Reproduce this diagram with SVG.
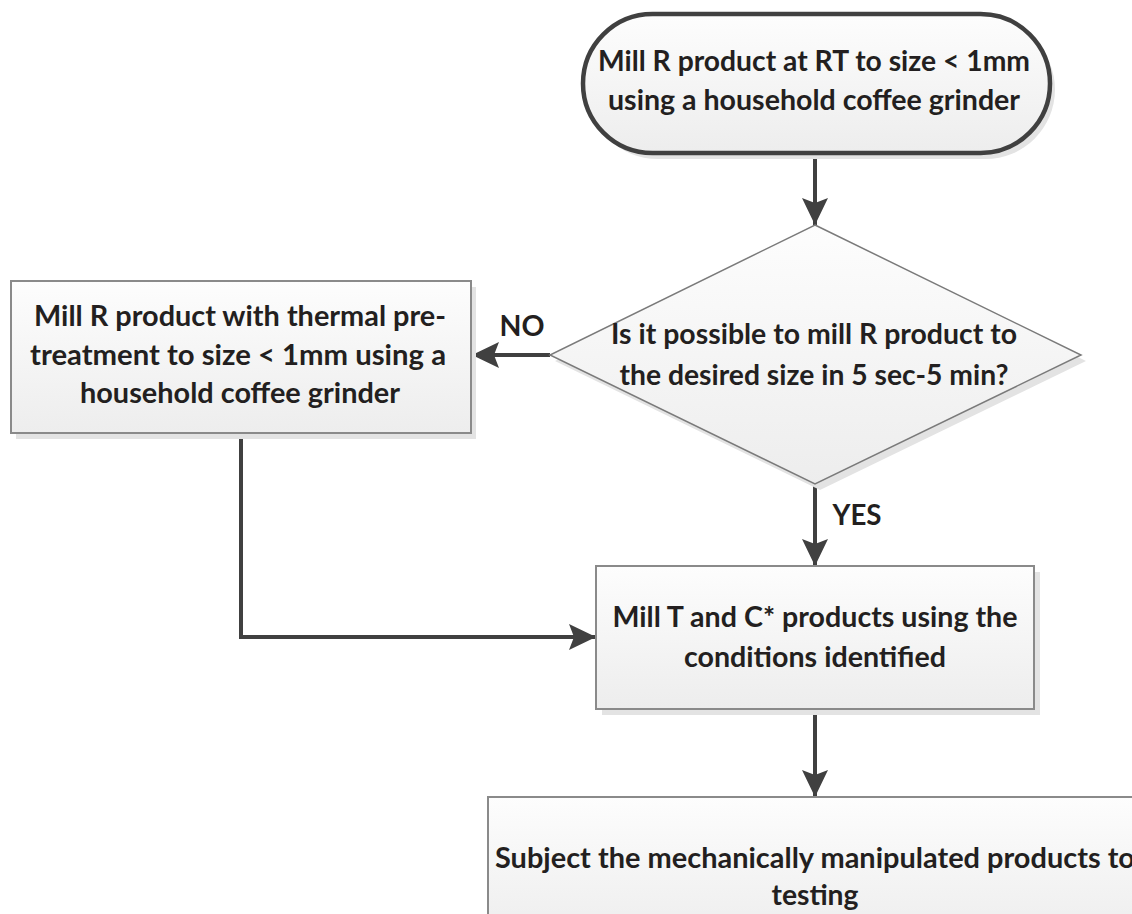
<svg xmlns="http://www.w3.org/2000/svg" width="1132" height="914" viewBox="0 0 1132 914">
<defs>
<linearGradient id="g" x1="0" y1="0" x2="0" y2="1">
<stop offset="0" stop-color="#fdfdfd"/>
<stop offset="1" stop-color="#ededed"/>
</linearGradient>
<marker id="ah" markerUnits="userSpaceOnUse" markerWidth="27" markerHeight="26" refX="27" refY="13" orient="auto">
<path d="M0,0 L27,13 L0,26 L5,13 z" fill="#404040"/>
</marker>
<style>
.t{font-family:Lato,"Open Sans","Liberation Sans",sans-serif;font-weight:bold;font-size:28px;fill:#231f20;text-anchor:middle}
.sh{fill:#e3e3e3}
.box{fill:url(#g);stroke:#8a8a8a;stroke-width:2}
.c{fill:none;stroke:#404040;stroke-width:4}
</style>
</defs>
<rect width="1132" height="914" fill="#ffffff"/>

<g id="connectors">
<line class="c" x1="815" y1="155" x2="815" y2="225" marker-end="url(#ah)"/>
<line class="c" x1="550" y1="355" x2="472" y2="355" marker-end="url(#ah)"/>
<line class="c" x1="815" y1="484" x2="815" y2="566" marker-end="url(#ah)"/>
<polyline class="c" points="241,433 241,637 596,637" marker-end="url(#ah)"/>
<line class="c" x1="815" y1="709" x2="815" y2="797" marker-end="url(#ah)"/>
<text class="t" x="522" y="336" textLength="45" lengthAdjust="spacingAndGlyphs">NO</text>
<text class="t" x="857" y="525" textLength="49" lengthAdjust="spacingAndGlyphs">YES</text>
</g>

<g id="start">
<rect class="sh" x="588" y="20" width="467" height="139" rx="69.5"/>
<rect x="583" y="14" width="467" height="139" rx="69.5" fill="url(#g)" stroke="#404040" stroke-width="4.5"/>
<text class="t" x="814" y="71" textLength="432" lengthAdjust="spacingAndGlyphs">Mill R product at RT to size &lt; 1mm</text>
<text class="t" x="814" y="110" textLength="412" lengthAdjust="spacingAndGlyphs">using a household coffee grinder</text>
</g>

<g id="decision">
<polygon class="sh" points="820,231 1086,361 820,490 555,361"/>
<polygon points="815,225 1081,355 815,484 550,355" fill="url(#g)" stroke="#7a7a7a" stroke-width="1.5"/>
<text class="t" x="814" y="344" textLength="406" lengthAdjust="spacingAndGlyphs">Is it possible to mill R product to</text>
<text class="t" x="814" y="385" textLength="389" lengthAdjust="spacingAndGlyphs">the desired size in 5 sec-5 min?</text>
</g>

<g id="thermal">
<rect class="sh" x="16" y="287" width="460" height="152"/>
<rect class="box" x="11" y="281" width="460" height="152"/>
<text class="t" x="240" y="326" textLength="412" lengthAdjust="spacingAndGlyphs">Mill R product with thermal pre-</text>
<text class="t" x="238" y="365" textLength="416" lengthAdjust="spacingAndGlyphs">treatment to size &lt; 1mm using a</text>
<text class="t" x="240" y="403" textLength="320" lengthAdjust="spacingAndGlyphs">household coffee grinder</text>
</g>

<g id="mill-tc">
<rect class="sh" x="602" y="572" width="438" height="143"/>
<rect class="box" x="596" y="566" width="438" height="143"/>
<text class="t" x="815" y="627" textLength="405" lengthAdjust="spacingAndGlyphs">Mill T and C* products using the</text>
<text class="t" x="815" y="667" textLength="262" lengthAdjust="spacingAndGlyphs">conditions identified</text>
</g>

<g id="testing">
<rect class="sh" x="494" y="803" width="660" height="143"/>
<rect class="box" x="488" y="797" width="660" height="143"/>
<text class="t" x="815" y="868" textLength="640" lengthAdjust="spacingAndGlyphs">Subject the mechanically manipulated products to</text>
<text class="t" x="815" y="905" textLength="87" lengthAdjust="spacingAndGlyphs">testing</text>
</g>
</svg>
